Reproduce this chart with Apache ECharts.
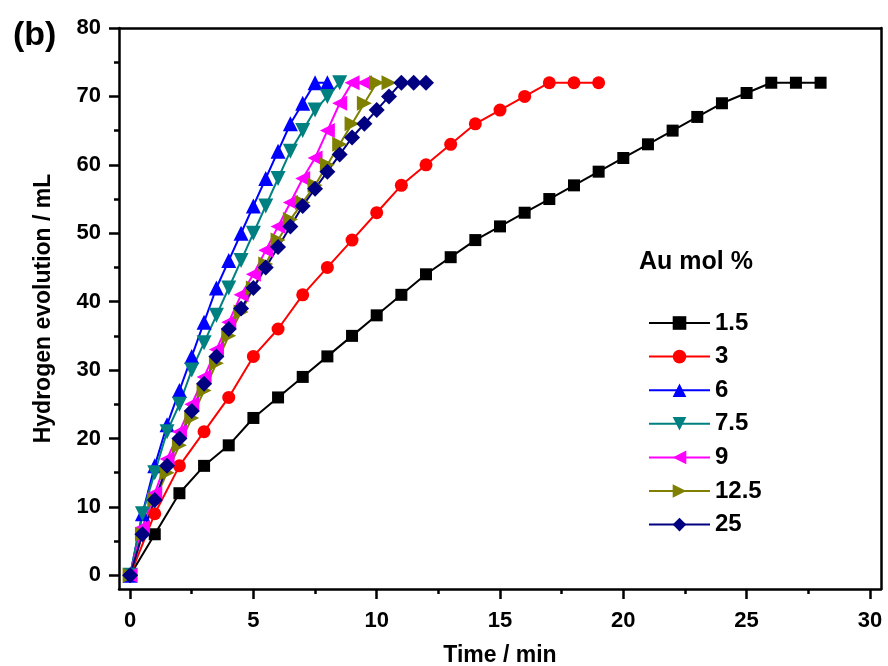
<!DOCTYPE html>
<html>
<head>
<meta charset="utf-8">
<script src="https://cdn.jsdelivr.net/npm/echarts@6/dist/echarts.min.js"></script>
<style>
  html, body { margin: 0; padding: 0; background: #fff; }
  #chart { width: 888px; height: 666px; }
</style>
</head>
<body>
<div id="chart"></div>
<script>
// 产氢曲线：不同 Au 负载量下累计产氢体积随时间变化
const FONT = '"Liberation Sans", Arial, sans-serif';

const names = ['1.5', '3', '6', '7.5', '9', '12.5', '25'];

// 1.5 和 3 每分钟取点，其余每半分钟取点
const tMin = [0, 1, 2, 3, 4, 5, 6, 7, 8, 9, 10, 11, 12, 13, 14, 15, 16, 17, 18, 19,
  20, 21, 22, 23, 24, 25, 26, 27, 28];
const tHalf = [0, 0.5, 1, 1.5, 2, 2.5, 3, 3.5, 4, 4.5, 5, 5.5, 6, 6.5, 7, 7.5, 8,
  8.5, 9, 9.5, 10, 10.5, 11, 11.5, 12];

const h2_15 = [0, 6, 12, 16, 19, 23, 26, 29, 32, 35, 38, 41, 44, 46.5, 49, 51, 53, 55,
  57, 59, 61, 63, 65, 67, 69, 70.5, 72, 72, 72];
const h2_3 = [0, 9, 16, 21, 26, 32, 36, 41, 45, 49, 53, 57, 60, 63, 66, 68, 70, 72, 72, 72];
const h2_6 = [0, 9, 16, 22, 27, 32, 37, 42, 46, 50, 54, 58, 62, 66, 69, 72, 72];
const h2_75 = [0, 9, 15, 21, 25, 30, 34, 38, 42, 46, 50, 54, 58, 62, 65, 68, 70, 72];
const h2_9 = [0, 7, 12, 17, 21, 25, 29, 33, 37, 41, 44, 47.5, 51, 54.5, 58, 61, 65, 69, 72, 72];
const h2_125 = [0, 6, 11, 15, 19, 23, 27, 31, 35, 38.5, 42, 45.5, 49, 52, 54.5, 57, 60, 63,
  66, 69, 72, 72];
const h2_25 = [0, 6, 11, 16, 20, 24, 28, 32, 36, 39, 42, 45, 48, 51, 54, 56.5, 59, 61.5,
  64, 66, 68, 70, 72, 72, 72];

const xMajor = [0, 5, 10, 15, 20, 25, 30];
const xMinor = [2.5, 7.5, 12.5, 17.5, 22.5, 27.5];
const yMajor = [0, 10, 20, 30, 40, 50, 60, 70, 80];
const yMinor = [5, 15, 25, 35, 45, 55, 65, 75];

const pair = (ts, vs) => vs.map((v, i) => [ts[i], v]);

const styles = [
  { t: tMin, v: h2_15, color: '#000000', symbol: 'rect', size: 12, rot: 0 },
  { t: tMin, v: h2_3, color: '#ff0000', symbol: 'circle', size: 13, rot: 0 },
  { t: tHalf, v: h2_6, color: '#0000ff', symbol: 'triangle', size: 15, rot: 0 },
  { t: tHalf, v: h2_75, color: '#008080', symbol: 'triangle', size: 15, rot: 180 },
  { t: tHalf, v: h2_9, color: '#ff00ff', symbol: 'triangle', size: 15, rot: 90 },
  { t: tHalf, v: h2_125, color: '#808000', symbol: 'triangle', size: 15, rot: -90 },
  { t: tHalf, v: h2_25, color: '#000080', symbol: 'diamond', size: 16, rot: 0 },
];

const BLACK = '#000';
const XMIN = -0.45, XMAX = 30.45, YMIN = -2, YMAX = 80;
const tickLabel = { color: BLACK, fontSize: 22, fontWeight: 'bold', fontFamily: FONT };
const axisLine = { show: true, onZero: false, lineStyle: { color: BLACK, width: 2.5 } };
const noLine = { show: false, onZero: false };

const chart = echarts.init(document.getElementById('chart'), null, { renderer: 'canvas' });

chart.setOption({
  animation: false,
  backgroundColor: '#fff',
  grid: { left: 119, right: 7, top: 28, bottom: 77, outerBoundsMode: 'none' },
  title: {
    text: '(b)', left: 8, top: 14,
    textStyle: { color: BLACK, fontSize: 34, fontWeight: 'bold', fontFamily: FONT },
  },
  graphic: [{
    type: 'text', left: 639, top: 250, silent: true,
    style: { text: 'Au mol %', fill: BLACK, font: `bold 25px ${FONT}` },
  }],
  legend: {
    orient: 'vertical', left: 643, top: 306,
    itemWidth: 61, itemHeight: 17, itemGap: 9.6,
    selectedMode: false,
    data: names,
    textStyle: { color: BLACK, fontSize: 24, fontWeight: 'bold', fontFamily: FONT },
  },
  xAxis: [
    {
      type: 'value', position: 'bottom', min: XMIN, max: XMAX,
      name: 'Time / min', nameLocation: 'middle', nameGap: 55,
      nameTextStyle: { color: BLACK, fontSize: 23, fontWeight: 'bold', fontFamily: FONT },
      axisLine,
      axisTick: { customValues: xMajor, length: 10, lineStyle: { color: BLACK, width: 2.5 } },
      axisLabel: { ...tickLabel, customValues: xMajor, margin: 21 },
      splitLine: { show: false },
    },
    {
      type: 'value', position: 'bottom', min: XMIN, max: XMAX,
      axisLine: noLine,
      axisTick: { customValues: xMinor, length: 5, lineStyle: { color: BLACK, width: 2.5 } },
      axisLabel: { show: false },
      splitLine: { show: false },
    },
    {
      type: 'value', position: 'top', min: XMIN, max: XMAX,
      axisLine,
      axisTick: { show: false },
      axisLabel: { show: false },
      splitLine: { show: false },
    },
  ],
  yAxis: [
    {
      type: 'value', position: 'left', min: YMIN, max: YMAX,
      name: 'Hydrogen evolution / mL', nameLocation: 'middle', nameGap: 64,
      nameTextStyle: { color: BLACK, fontSize: 23, fontWeight: 'bold', fontFamily: FONT },
      axisLine,
      axisTick: { customValues: yMajor, length: 10, lineStyle: { color: BLACK, width: 2.5 } },
      axisLabel: { ...tickLabel, customValues: yMajor, margin: 18 },
      splitLine: { show: false },
    },
    {
      type: 'value', position: 'left', min: YMIN, max: YMAX,
      axisLine: noLine,
      axisTick: { customValues: yMinor, length: 5, lineStyle: { color: BLACK, width: 2.5 } },
      axisLabel: { show: false },
      splitLine: { show: false },
    },
    {
      type: 'value', position: 'right', min: YMIN, max: YMAX,
      axisLine,
      axisTick: { show: false },
      axisLabel: { show: false },
      splitLine: { show: false },
    },
  ],
  series: styles.map((s, i) => ({
    name: names[i],
    type: 'line',
    xAxisIndex: 0, yAxisIndex: 0,
    data: pair(s.t, s.v),
    symbol: s.symbol,
    symbolSize: s.size,
    symbolRotate: s.rot,
    showAllSymbol: true,
    color: s.color,
    lineStyle: { color: s.color, width: 2 },
    itemStyle: { color: s.color },
    emphasis: { disabled: true },
  })),
});
</script>
</body>
</html>
